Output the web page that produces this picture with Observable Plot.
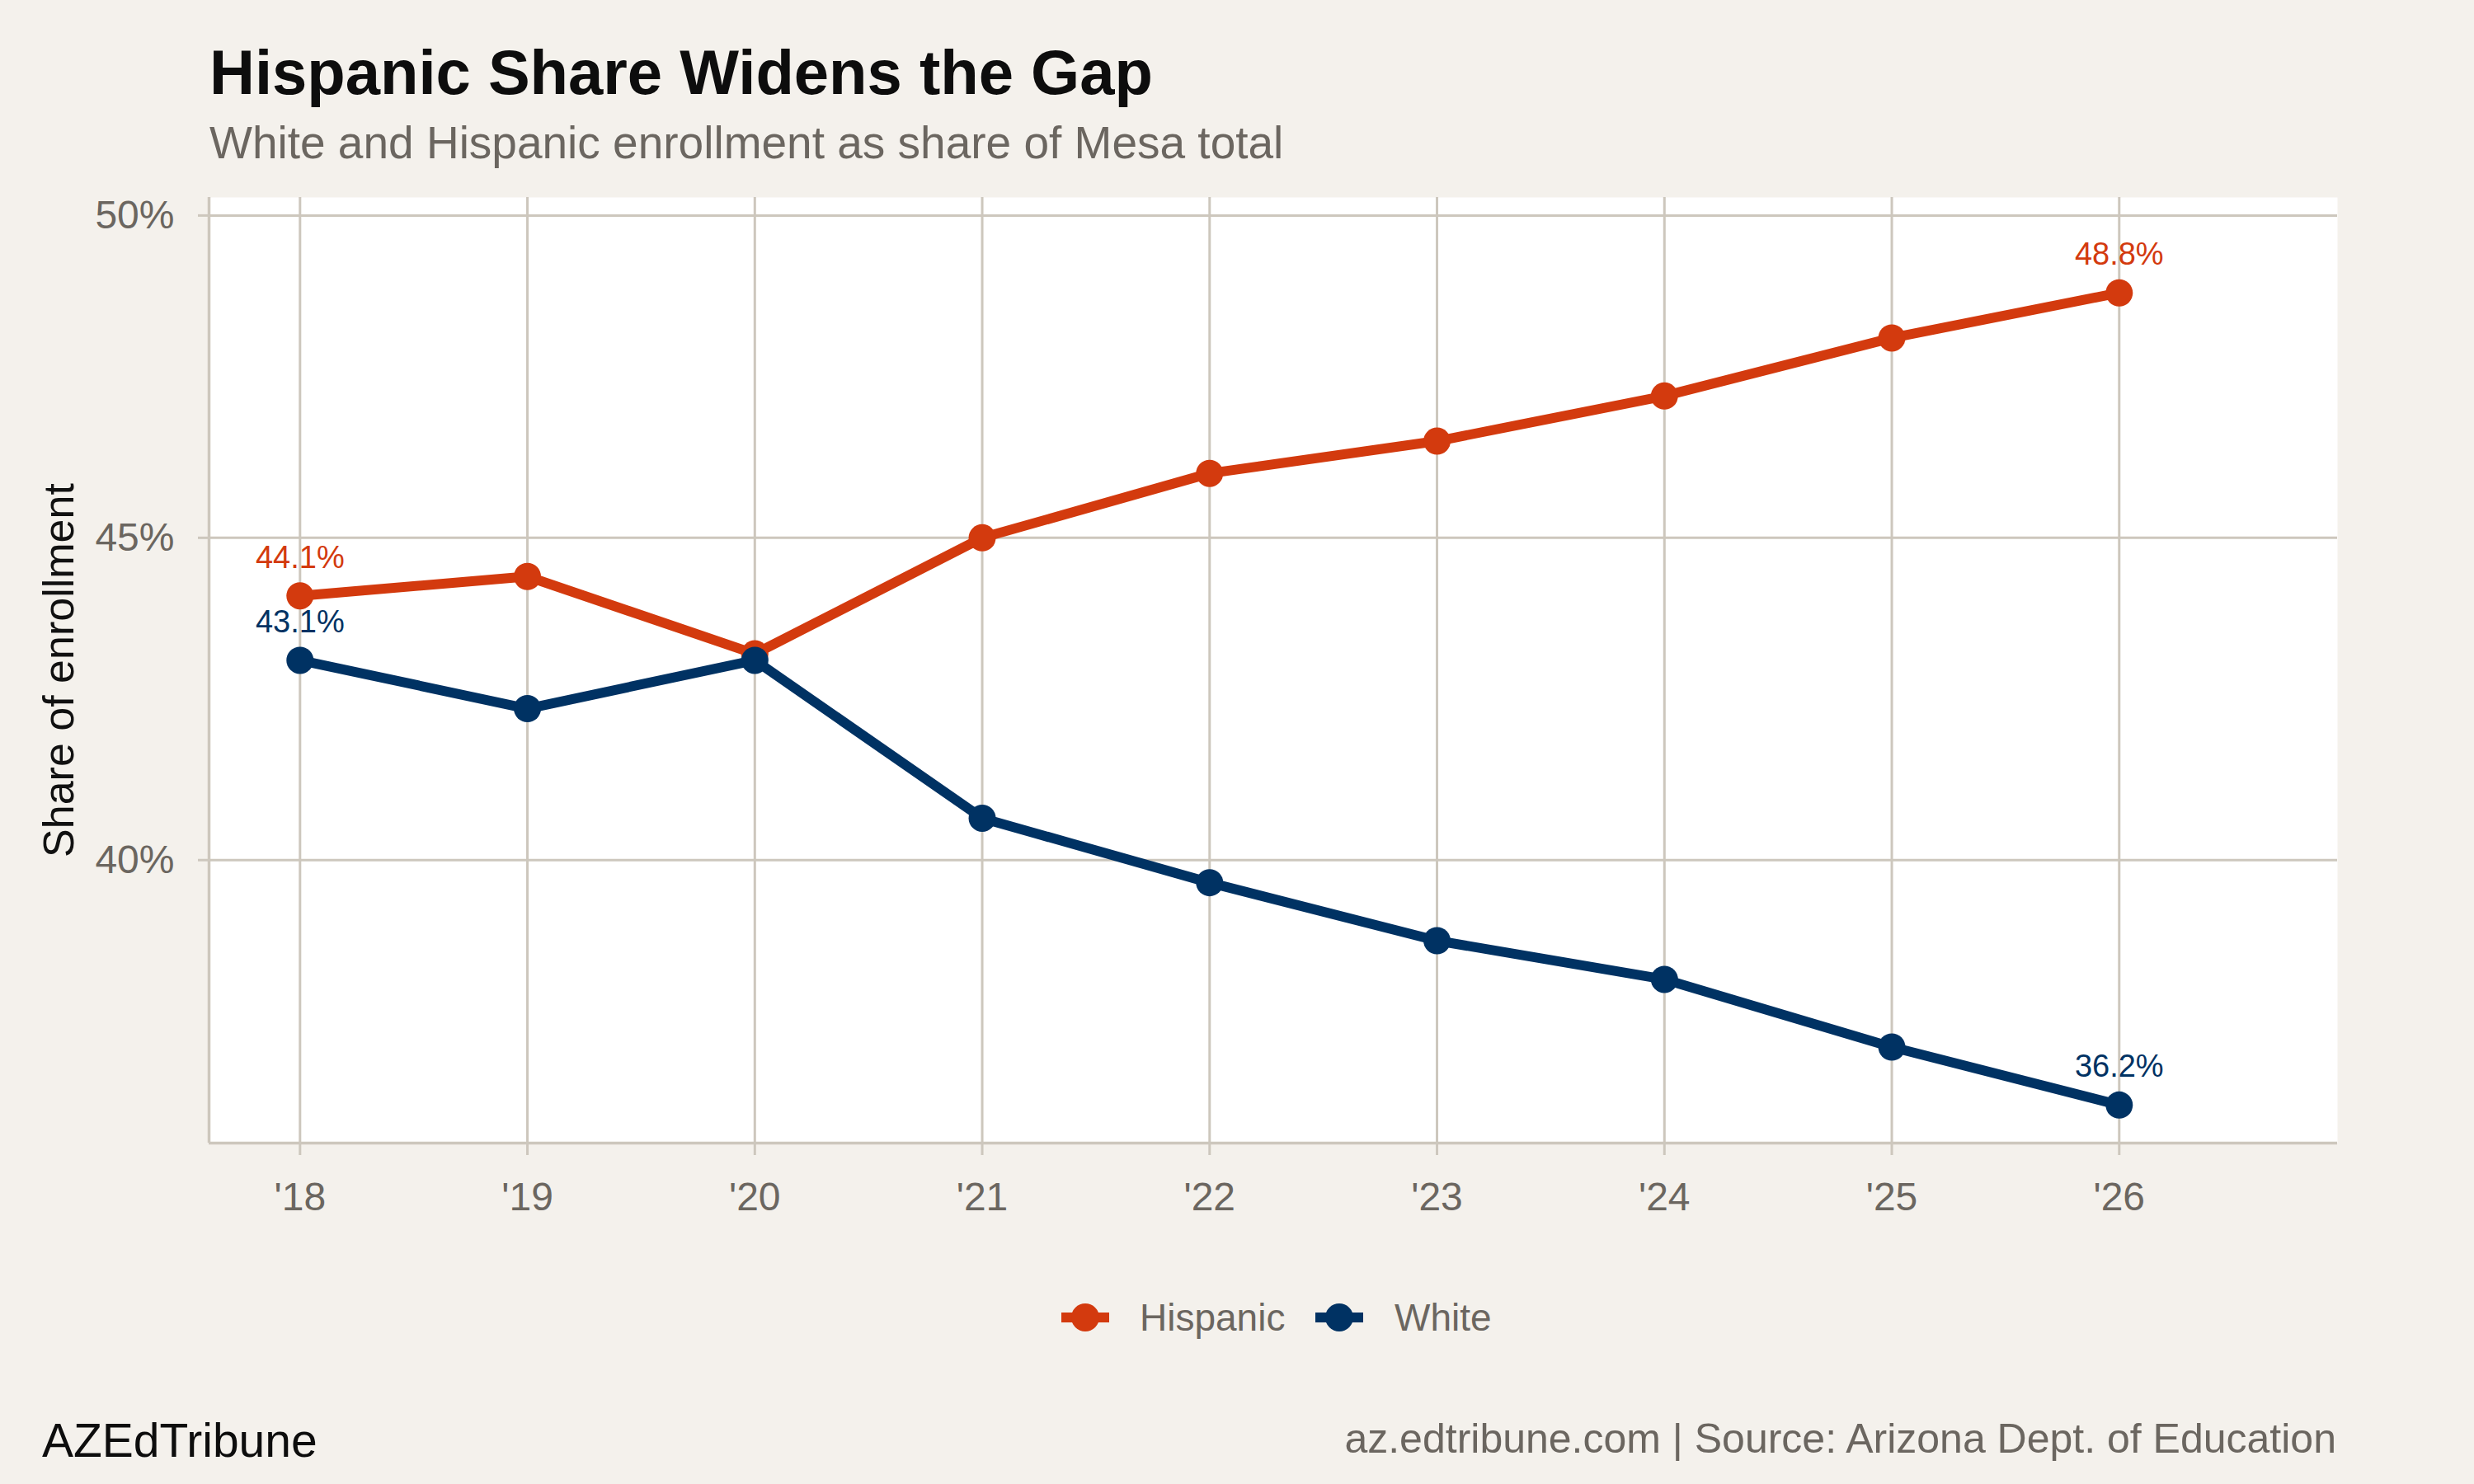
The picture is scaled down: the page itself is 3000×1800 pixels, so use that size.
<!DOCTYPE html>
<html>
<head>
<meta charset="utf-8">
<script src="https://cdn.jsdelivr.net/npm/d3@7"></script>
<script src="https://cdn.jsdelivr.net/npm/@observablehq/plot@0.6"></script>
<style>
  html, body { margin: 0; padding: 0; }
  body { width: 3000px; height: 1800px; background: #f4f1ec; position: relative; overflow: hidden;
         font-family: "Liberation Sans", Arial, Helvetica, sans-serif; }
  .abs { position: absolute; white-space: nowrap; line-height: 1; }
  #chart { position: absolute; left: 0; top: 200px; }
</style>
</head>
<body>
<div class="abs" id="title" style="left:254px; top:50px; font-size:76px; font-weight:bold; color:#0d0d0d;">Hispanic Share Widens the Gap</div>
<div class="abs" id="subtitle" style="left:254px; top:146px; font-size:55px; color:#6b6660;">White and Hispanic enrollment as share of Mesa total</div>
<div id="chart"></div>
<div id="legend"></div>
<div class="abs" style="left:51px; top:1719px; font-size:57px; color:#0d0d0d;">AZEdTribune</div>
<div class="abs" style="right:167px; top:1720px; font-size:50px; color:#6b6660;">az.edtribune.com | Source: Arizona Dept. of Education</div>
<script>
// ---- data ----
const years = [2018, 2019, 2020, 2021, 2022, 2023, 2024, 2025, 2026];
const tickLabels = ["'18", "'19", "'20", "'21", "'22", "'23", "'24", "'25", "'26"];
const hispanic = [44.1, 44.4, 43.2, 45.0, 46.0, 46.5, 47.2, 48.1, 48.8];
const white = [43.1, 42.35, 43.1, 40.65, 39.65, 38.75, 38.15, 37.1, 36.2];
const seriesNames = ["Hispanic", "White"];
const seriesColors = ["#d33a0e", "#003263"];
const yTicks = [40, 45, 50];
const yTickLabels = ["40%", "45%", "50%"];

const rows = [];
years.forEach((yr, i) => rows.push({year: yr, value: hispanic[i], series: "Hispanic"}));
years.forEach((yr, i) => rows.push({year: yr, value: white[i], series: "White"}));
const endLabels = rows.filter(d => d.year === years[0] || d.year === years[years.length - 1]);

const grid = "#cdc7bd";
const gray = "#6b6660";
const xDomain = [2017.6, 2026.96];
const yDomain = [35.61, 50.28];

const chart = Plot.plot({
  width: 3000,
  height: 1300,
  marginTop: 39,
  marginBottom: 114,
  marginLeft: 253,
  marginRight: 166,
  style: {background: "transparent", fontFamily: "'Liberation Sans', Arial, sans-serif", fontSize: "48px", color: gray},
  x: {domain: xDomain},
  y: {domain: yDomain},
  color: {domain: seriesNames, range: seriesColors},
  marks: [
    Plot.frame({fill: "white", stroke: null}),
    Plot.gridX(years, {stroke: grid, strokeOpacity: 1, strokeWidth: 3}),
    Plot.gridY(yTicks, {stroke: grid, strokeOpacity: 1, strokeWidth: 3}),
    Plot.ruleX([xDomain[0]], {stroke: grid, strokeWidth: 3.5}),
    Plot.ruleY([yDomain[0]], {stroke: grid, strokeWidth: 3.5}),
    Plot.axisX(years, {
      tickFormat: (d) => tickLabels[years.indexOf(d)],
      tickSize: 15, tickPadding: 32, stroke: grid, strokeWidth: 3, fill: gray,
      fontSize: 48, label: null
    }),
    Plot.axisY(yTicks, {
      tickFormat: (d) => yTickLabels[yTicks.indexOf(d)],
      tickSize: 13, tickPadding: 29, stroke: grid, strokeWidth: 3, fill: gray,
      fontSize: 48, label: null
    }),
    Plot.axisY({
      ticks: [], tickSize: 0, label: "Share of enrollment", labelAnchor: "center",
      labelArrow: "none", labelOffset: 201, fill: "#111", fontSize: 52
    }),
    Plot.line(rows, {x: "year", y: "value", stroke: "series", z: "series", strokeWidth: 12, strokeLinejoin: "round"}),
    Plot.dot(rows, {x: "year", y: "value", fill: "series", r: 16.5, stroke: null}),
    Plot.text(endLabels, {
      x: "year", y: "value", fill: "series",
      text: (d) => d.value.toFixed(1) + "%",
      textAnchor: "middle", lineAnchor: "bottom", dy: -34, fontSize: 38
    })
  ]
});
document.getElementById("chart").appendChild(chart);

// ---- legend ----
const legend = document.getElementById("legend");
const swatchX = [1287, 1595];
const textX = [1382, 1691];
seriesNames.forEach((name, i) => {
  const sw = document.createElementNS("http://www.w3.org/2000/svg", "svg");
  sw.setAttribute("width", 58);
  sw.setAttribute("height", 40);
  sw.style.position = "absolute";
  sw.style.left = swatchX[i] + "px";
  sw.style.top = "1578px";
  sw.innerHTML = `<line x1="0" x2="58" y1="20" y2="20" stroke="${seriesColors[i]}" stroke-width="12"/>` +
                 `<circle cx="29" cy="20" r="17" fill="${seriesColors[i]}"/>`;
  legend.appendChild(sw);
  const t = document.createElement("div");
  t.className = "abs";
  t.style.left = textX[i] + "px";
  t.style.top = "1575px";
  t.style.fontSize = "46px";
  t.style.color = gray;
  t.textContent = name;
  legend.appendChild(t);
});
</script>
</body>
</html>
